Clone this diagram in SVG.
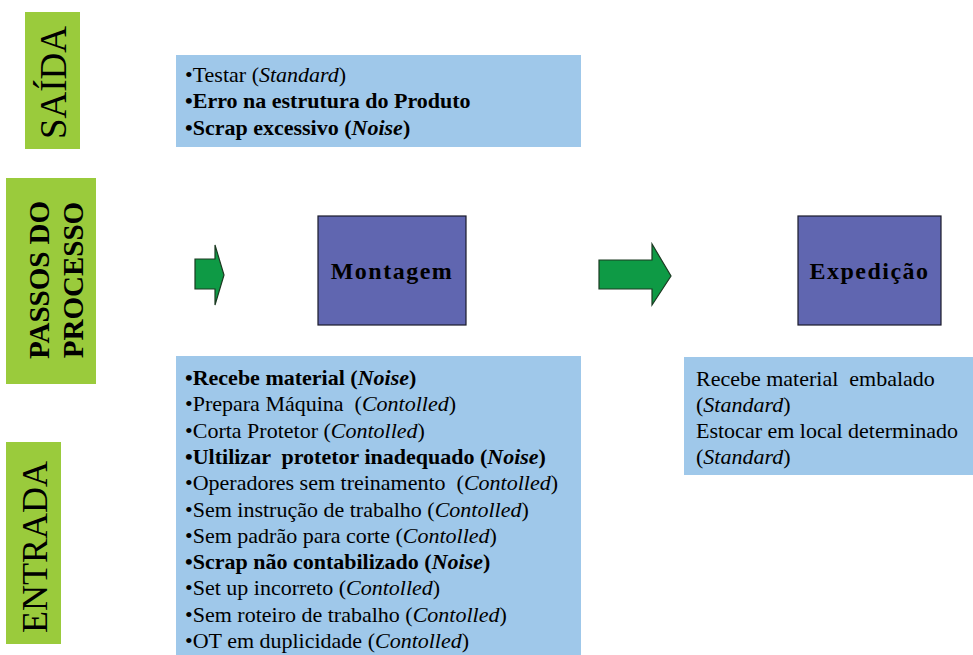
<svg xmlns="http://www.w3.org/2000/svg" width="973" height="655" viewBox="0 0 973 655">
  <style>
    .band { fill: #9ACB3C; }
    .band-text { font-family: "Liberation Serif", "Times New Roman", serif; fill: #000; }
    .info { fill: #9FC8EA; }
    .step { fill: #6066B0; stroke: #1a1a2a; stroke-width: 1.2; }
    .step-text { font-family: "Liberation Serif", "Times New Roman", serif; font-weight: bold; font-size: 24px; letter-spacing: 1.5px; fill: #000; text-anchor: middle; }
    .flow { fill: #0E9A45; stroke: #1c3a22; stroke-width: 1.2; stroke-linejoin: miter; }
    .item { font-family: "Liberation Serif", "Times New Roman", serif; font-size: 22px; fill: #000; white-space: pre; }
    .b { font-weight: bold; }
    .i { font-style: italic; }
  </style>
  <rect width="973" height="655" fill="#ffffff"/>

  <!-- Side bands -->
  <g id="saida">
    <rect class="band" x="25" y="12" width="55" height="137"/>
    <text class="band-text" font-size="37" text-anchor="middle" transform="translate(66 82.5) rotate(-90)">SAÍDA</text>
  </g>
  <g id="passos">
    <rect class="band" x="6" y="178" width="90" height="206"/>
    <text class="band-text" font-size="29" font-weight="bold" text-anchor="middle" transform="translate(49 280) rotate(-90)">PASSOS DO</text>
    <text class="band-text" font-size="29" font-weight="bold" text-anchor="middle" transform="translate(83 280) rotate(-90)">PROCESSO</text>
  </g>
  <g id="entrada">
    <rect class="band" x="6" y="442" width="55" height="202"/>
    <text class="band-text" font-size="36" text-anchor="middle" transform="translate(47 547) rotate(-90)">ENTRADA</text>
  </g>

  <!-- Output notes -->
  <g id="saida-notas">
    <rect class="info" x="176" y="55" width="405" height="92"/>
    <text class="item" x="185" y="82">•Testar (<tspan class="i">Standard</tspan>)</text>
    <text class="item b" x="185" y="108">•Erro na estrutura do Produto</text>
    <text class="item b" x="185" y="135">•Scrap excessivo (<tspan class="i">Noise</tspan>)</text>
  </g>

  <!-- Process steps -->
  <g id="montagem">
    <rect class="step" x="318" y="216" width="148" height="109"/>
    <text class="step-text" x="392" y="279">Montagem</text>
  </g>
  <g id="expedicao">
    <rect class="step" x="798" y="216" width="143" height="109"/>
    <text class="step-text" x="869.5" y="279">Expedição</text>
  </g>

  <!-- Flow arrows -->
  <g id="connectors">
    <path class="flow" d="M195 259 H215 V245 L224 275 L215 305 V289 H195 Z"/>
    <path class="flow" d="M599 260 H652 V244 L671 276 L652 305 V289 H599 Z"/>
  </g>

  <!-- Input notes -->
  <g id="entrada-notas">
    <rect class="info" x="176" y="356" width="405" height="299"/>
    <text class="item b" x="185" y="385">•Recebe material (<tspan class="i">Noise</tspan>)</text>
    <text class="item" x="185" y="411.3">•Prepara Máquina  (<tspan class="i">Contolled</tspan>)</text>
    <text class="item" x="185" y="437.6">•Corta Protetor (<tspan class="i">Contolled</tspan>)</text>
    <text class="item b" x="185" y="463.9">•Ultilizar  protetor inadequado (<tspan class="i">Noise</tspan>)</text>
    <text class="item" x="185" y="490.2">•Operadores sem treinamento  (<tspan class="i">Contolled</tspan>)</text>
    <text class="item" x="185" y="516.5">•Sem instrução de trabalho (<tspan class="i">Contolled</tspan>)</text>
    <text class="item" x="185" y="542.8">•Sem padrão para corte (<tspan class="i">Contolled</tspan>)</text>
    <text class="item b" x="185" y="569.1">•Scrap não contabilizado (<tspan class="i">Noise</tspan>)</text>
    <text class="item" x="185" y="595.4">•Set up incorreto (<tspan class="i">Contolled</tspan>)</text>
    <text class="item" x="185" y="621.7">•Sem roteiro de trabalho (<tspan class="i">Contolled</tspan>)</text>
    <text class="item" x="185" y="648">•OT em duplicidade (<tspan class="i">Contolled</tspan>)</text>
  </g>

  <g id="expedicao-notas">
    <rect class="info" x="684" y="357" width="289" height="118"/>
    <text class="item" x="696" y="386">Recebe material  embalado</text>
    <text class="item" x="696" y="412">(<tspan class="i">Standard</tspan>)</text>
    <text class="item" x="696" y="438">Estocar em local determinado</text>
    <text class="item" x="696" y="464">(<tspan class="i">Standard</tspan>)</text>
  </g>
</svg>
